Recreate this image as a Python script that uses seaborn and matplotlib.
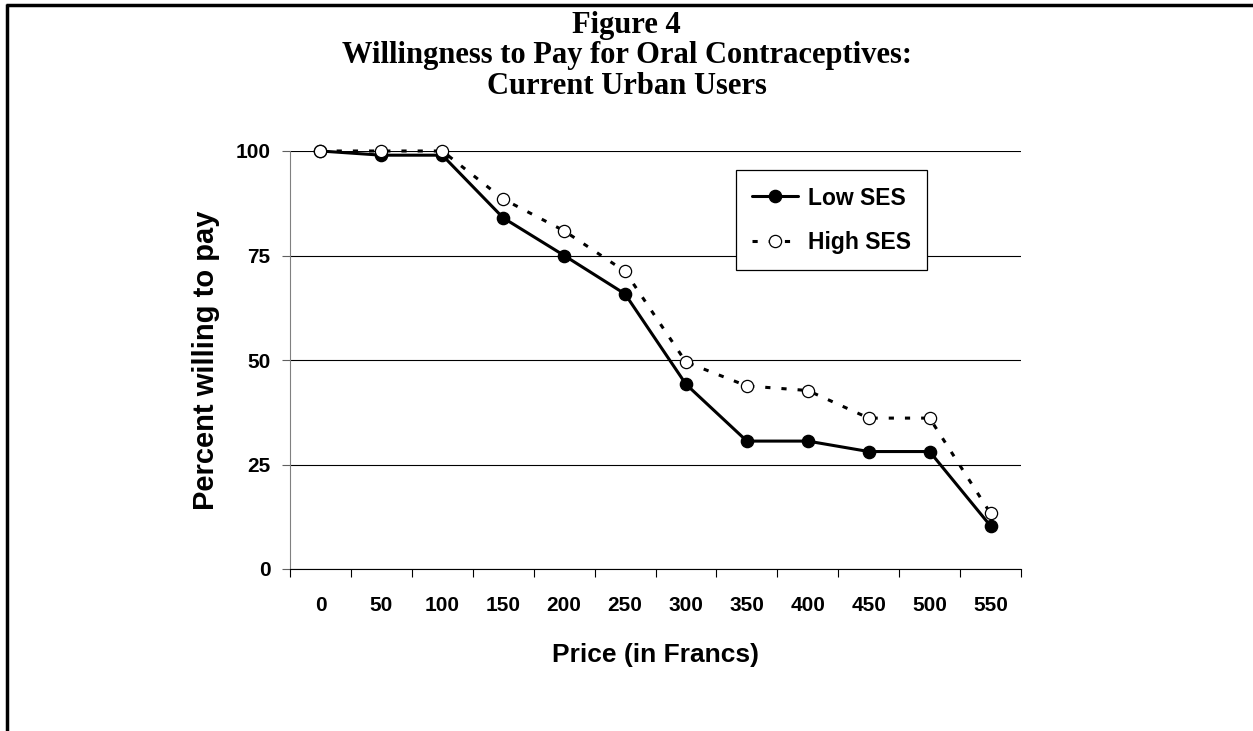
import numpy as np
import pandas as pd
import matplotlib
matplotlib.use("Agg")
import matplotlib.pyplot as plt
import seaborn as sns
from matplotlib.lines import Line2D
from matplotlib.ticker import FixedLocator, NullFormatter, FixedFormatter

# ---------------- data ----------------
prices = [0, 50, 100, 150, 200, 250, 300, 350, 400, 450, 500, 550]
price_labels = [str(p) for p in prices]
low_ses = [100, 99, 99, 84, 75, 65.8, 44.2, 30.6, 30.6, 28.1, 28.1, 10.3]
high_ses = [100, 100, 100, 88.5, 80.9, 71.2, 49.5, 43.8, 42.7, 36.1, 36.1, 13.3]
y_ticks = [0, 25, 50, 75, 100]
series_names = ["Low SES", "High SES"]
title_lines = ["Figure 4",
               "Willingness to Pay for Oral Contraceptives:",
               "Current Urban Users"]
x_title = "Price (in Francs)"
y_title = "Percent willing to pay"

# ---------------- style ----------------
sns.set_style("white")
plt.rcParams["font.family"] = ["Liberation Sans", "DejaVu Sans"]
plt.rcParams["text.color"] = "black"
plt.rcParams["axes.labelcolor"] = "black"
plt.rcParams["xtick.color"] = "black"
plt.rcParams["ytick.color"] = "black"

W, H = 1253, 731
fig = plt.figure(figsize=(W / 100, H / 100), dpi=100)
fig.patch.set_facecolor("white")

ax_left, ax_right, ax_top, ax_bottom = 290, 1021, 151, 569
ax = fig.add_axes([ax_left / W, 1 - ax_bottom / H,
                   (ax_right - ax_left) / W, (ax_bottom - ax_top) / H])

df = pd.DataFrame({
    "Price": prices * 2,
    "Percent": low_ses + high_ses,
    "Group": [series_names[0]] * len(prices) + [series_names[1]] * len(prices),
})

sns.lineplot(data=df[df["Group"] == series_names[0]], x="Price", y="Percent",
             color="black", linewidth=2.2, marker="o", markersize=8.8,
             markerfacecolor="black", markeredgecolor="black", markeredgewidth=1.0,
             errorbar=None, label=series_names[0], ax=ax, clip_on=False, zorder=4)
sns.lineplot(data=df[df["Group"] == series_names[1]], x="Price", y="Percent",
             color="black", linewidth=2.2, linestyle=(0, (1.7, 3.6)),
             marker="o", markersize=8.8,
             markerfacecolor="white", markeredgecolor="black", markeredgewidth=0.9,
             errorbar=None, label=series_names[1], ax=ax, clip_on=False, zorder=5)

step = prices[1] - prices[0]
ax.set_xlim(prices[0] - step / 2, prices[-1] + step / 2)
ax.set_ylim(y_ticks[0], y_ticks[-1])

# x axis: tick marks at category boundaries, labels at centers
bounds = [p - step / 2 for p in prices] + [prices[-1] + step / 2]
ax.xaxis.set_major_locator(FixedLocator(bounds))
ax.xaxis.set_major_formatter(NullFormatter())
ax.xaxis.set_minor_locator(FixedLocator(prices))
ax.xaxis.set_minor_formatter(FixedFormatter(price_labels))
ax.tick_params(axis="x", which="major", direction="out", length=5.5, width=0.8,
               color="black", bottom=True)
ax.tick_params(axis="x", which="minor", length=0, pad=19.5, labelsize=15,
               bottom=True, labelcolor="black")
for t in ax.get_xticklabels(minor=True):
    t.set_fontweight("bold")

ax.set_yticks(y_ticks)
ax.set_yticklabels([str(v) for v in y_ticks], fontweight="bold")
ax.tick_params(axis="y", which="major", direction="out", length=5.5, width=0.8,
               color="#606060", pad=8.5, labelsize=15, left=True,
               labelcolor="black")

ax.yaxis.grid(True, color="black", linewidth=0.8)
ax.xaxis.grid(False)
ax.set_axisbelow(True)

for s in ["top", "right"]:
    ax.spines[s].set_visible(False)
ax.spines["left"].set_color("#808080")
ax.spines["left"].set_linewidth(0.8)
ax.spines["bottom"].set_color("black")
ax.spines["bottom"].set_linewidth(0.8)

ax.set_xlabel(x_title, fontsize=19, fontweight="bold", labelpad=20, color="black")
ax.set_ylabel(y_title, fontsize=21, fontweight="bold", labelpad=11, color="black")

leg = ax.legend(loc="upper left", bbox_to_anchor=(0.610, 0.9545),
                frameon=True, fancybox=False, edgecolor="black", framealpha=1,
                prop={"weight": "bold", "size": 16.5},
                handlelength=2.0, handletextpad=0.42, borderpad=0.72,
                labelspacing=0.93, borderaxespad=0)
leg.get_frame().set_linewidth(0.9)
leg.set_zorder(10)
for t in leg.get_texts():
    t.set_color("black")

# titles
baselines = [33, 63, 94]
for line, yb in zip(title_lines, baselines):
    fig.text(0.5, 1 - yb / H, line, ha="center", va="baseline",
             fontsize=22, fontweight="bold", family="Liberation Serif",
             color="black")

# page frame (top and left border)
fig.add_artist(Line2D([6 / W, 1], [1 - 5 / H, 1 - 5 / H], transform=fig.transFigure,
                      color="black", linewidth=2.5, solid_capstyle="butt"))
fig.add_artist(Line2D([7 / W, 7 / W], [0, 1 - 4 / H], transform=fig.transFigure,
                      color="black", linewidth=2.5, solid_capstyle="butt"))

fig.savefig("out.png", dpi=100, facecolor="white")
